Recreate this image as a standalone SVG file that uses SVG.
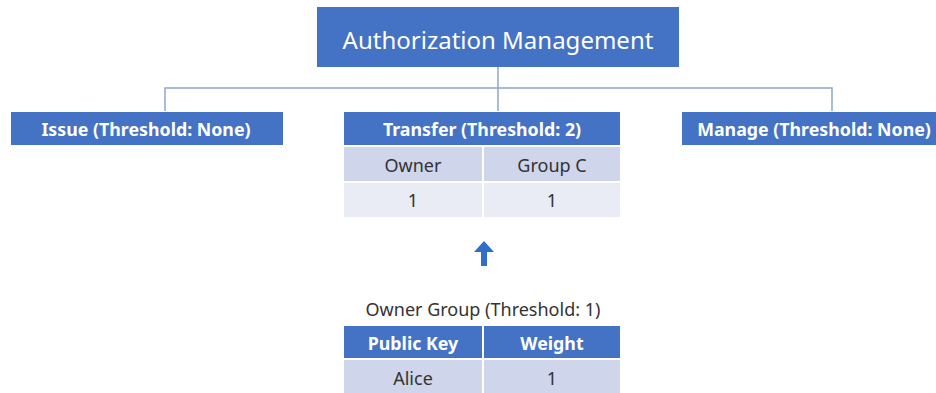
<svg xmlns="http://www.w3.org/2000/svg" width="936" height="393" viewBox="0 0 936 393">
<style>
.blue{fill:#4472C4}
.r1{fill:#CFD5EA}
.r2{fill:#E9EBF5}
.t{font-family:"Noto Sans","Open Sans","Liberation Sans",sans-serif;text-anchor:middle;dominant-baseline:central}
.w{fill:#FFFFFF}
.b{font-weight:bold;font-size:17.8px}
.d{fill:#333333;font-size:18px}
.ln{stroke:#8FA6CC;stroke-width:1.5;fill:none}
.sep{stroke:#FFFFFF;stroke-width:2}
</style>
<rect width="936" height="393" fill="#FFFFFF"/>
<g id="connectors">
<path class="ln" d="M498 67V111M165 111V88H832V111"/>
<path d="M481 266V252H474L484 241L494 252H487V266Z" fill="#2F6FC9"/>
</g>
<g id="root">
<rect class="blue" x="317" y="7" width="362" height="60"/>
<text class="t w" x="498" y="39" font-size="24">Authorization Management</text>
</g>
<g id="issue">
<rect class="blue" x="11" y="112" width="272" height="33"/>
<text class="t w b" x="146" y="129">Issue (Threshold: None)</text>
</g>
<g id="manage">
<rect class="blue" x="682" y="112" width="260" height="33"/>
<text class="t w b" x="814" y="129">Manage (Threshold: None)</text>
</g>
<g id="transfer">
<rect class="blue" x="344" y="112" width="276" height="33"/>
<text class="t w b" x="482" y="129">Transfer (Threshold: 2)</text>
<rect class="r1" x="344" y="147" width="276" height="35"/>
<rect class="r2" x="344" y="182" width="276" height="35"/>
<line class="sep" x1="344" y1="146" x2="620" y2="146"/>
<line class="sep" x1="344" y1="182" x2="620" y2="182"/>
<line class="sep" x1="483" y1="146" x2="483" y2="217"/>
<text class="t d" x="413" y="165">Owner</text>
<text class="t d" x="552" y="165">Group C</text>
<text class="t d" x="413" y="200">1</text>
<text class="t d" x="552" y="200">1</text>
</g>
<g id="owner-group">
<text class="t d" x="483" y="309">Owner Group (Threshold: 1)</text>
<rect class="blue" x="344" y="326" width="276" height="33"/>
<rect class="r1" x="344" y="359" width="276" height="34"/>
<line class="sep" x1="344" y1="359" x2="620" y2="359"/>
<line class="sep" x1="483" y1="326" x2="483" y2="393"/>
<text class="t w b" x="413" y="343">Public Key</text>
<text class="t w b" x="552" y="343">Weight</text>
<text class="t d" x="413" y="378">Alice</text>
<text class="t d" x="552" y="378">1</text>
</g>
</svg>
